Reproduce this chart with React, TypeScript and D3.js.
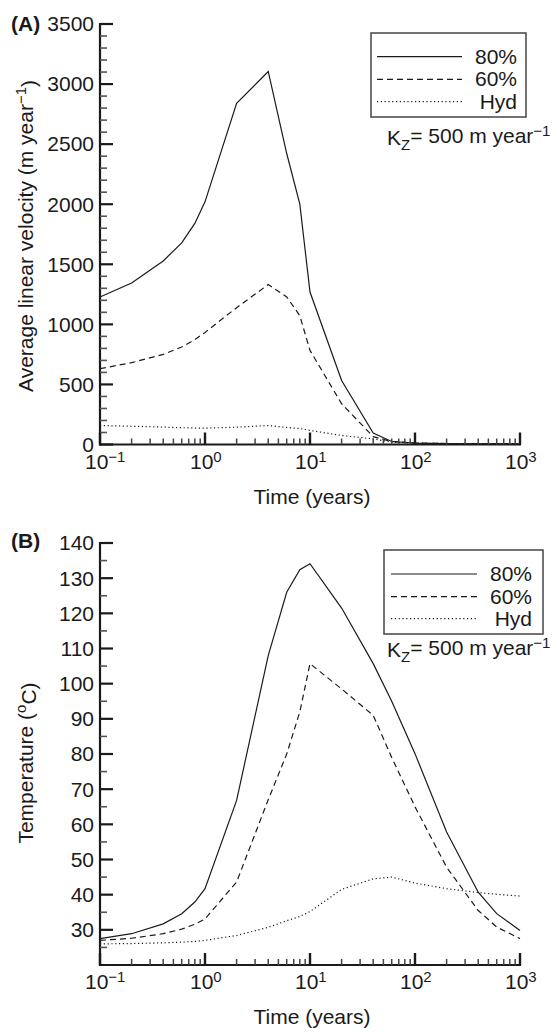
import React from "react";
import * as d3 from "d3";

// ---------- Data ----------
const timesA = [0.1, 0.2, 0.4, 0.6, 0.8, 1, 2, 4, 6, 8, 10, 20, 40, 60, 100, 200, 400, 1000];
const velocity80 = [1228, 1344, 1528, 1678, 1840, 2020, 2839, 3105, 2422, 2000, 1269, 533, 95, 25, 12, 8, 6, 4];
const velocity60 = [631, 681, 750, 811, 872, 933, 1139, 1331, 1228, 1072, 783, 339, 65, 25, 12, 8, 6, 4];
const velocityHyd = [158, 152, 145, 140, 137, 136, 144, 158, 142, 133, 117, 75, 47, 19, 12, 8, 6, 4];

const timesB = [0.1, 0.2, 0.4, 0.6, 0.8, 1, 2, 4, 6, 8, 10, 20, 40, 60, 100, 200, 400, 600, 1000];
const temp80 = [27.5, 28.9, 31.7, 34.6, 37.9, 41.7, 66.8, 108, 126, 132.4, 134.1, 121.5, 105.7, 95, 80.1, 57.8, 40.7, 34.6, 29.8];
const temp60 = [27, 27.6, 28.9, 30.2, 31.6, 33.1, 43.6, 67, 80, 92, 105.7, 98.5, 91, 79, 65, 47.8, 35.5, 30.8, 27.5];
const tempHyd = [26, 26.1, 26.3, 26.5, 26.7, 27, 28.4, 30.7, 32.6, 33.8, 35.2, 41.5, 44.5, 45, 43.3, 41.7, 40.6, 40.1, 39.6];

const seriesNames = ["80%", "60%", "Hyd"];
const xDecades = [-1, 0, 1, 2, 3];
const yTicksA = [0, 500, 1000, 1500, 2000, 2500, 3000, 3500];
const yTicksB = [30, 40, 50, 60, 70, 80, 90, 100, 110, 120, 130, 140];

// ---------- Styles ----------
const FONT = "'Liberation Sans', Arial, Helvetica, sans-serif";
const FS = 21;
const SUP = 15;
const INK = "#1a1a1a";
const dashes = ["none", "6,4", "1.2,2.6"];

const X0 = 100, X1 = 520;

type PanelProps = {
  label: string;
  times: number[];
  series: number[][];
  yDomain: [number, number];
  yRange: [number, number];
  majorTicks: number[];
  minorStep: number;
  yLabel: React.ReactNode;
  yLabelX: number;
  yLabelY: number;
  labelY: number;
  legend: { x0: number; x1: number; y0: number; y1: number; lineX0: number; lineX1: number; lineYs: number[]; textX: number };
  kz: { x: number; y: number };
  tickLabelY: number;
  titleY: number;
};

function Panel(p: PanelProps) {
  const x = d3.scaleLog().domain([0.1, 1000]).range([X0, X1]);
  const y = d3.scaleLinear().domain(p.yDomain).range(p.yRange);
  const axisY = p.yRange[0];
  const line = d3
    .line<number>()
    .x((_, i) => x(p.times[i]))
    .y((d) => y(d));

  const minorX: number[] = [];
  for (let d = -1; d < 3; d++) for (let m = 2; m <= 9; m++) minorX.push(m * Math.pow(10, d));
  const minorY = d3.range(p.yDomain[0], p.yDomain[1] + 0.001, p.minorStep).filter((v) => !p.majorTicks.includes(v));

  return (
    <g>
      <text x={11} y={p.labelY} fontFamily={FONT} fontSize={FS} fontWeight="bold" fill={INK}>
        {p.label}
      </text>
      {/* data lines */}
      {p.series.map((s, i) => (
        <path key={i} d={line(s) || ""} fill="none" stroke={INK} strokeWidth={1.2} strokeDasharray={dashes[i]} />
      ))}
      {/* y axis */}
      <line x1={X0} x2={X0} y1={p.yRange[1] - 1} y2={axisY + 1} stroke={INK} strokeWidth={2.2} />
      {minorY.map((v) => (
        <line key={"my" + v} x1={X0} x2={X0 + 7} y1={y(v)} y2={y(v)} stroke="#555" strokeWidth={1.6} />
      ))}
      {p.majorTicks.map((v) => (
        <g key={"y" + v}>
          <line x1={X0} x2={X0 + 13} y1={y(v)} y2={y(v)} stroke={INK} strokeWidth={2.2} />
          <text x={X0 - 6} y={y(v)} dy="0.35em" textAnchor="end" fontFamily={FONT} fontSize={FS} fill={INK}>
            {v}
          </text>
        </g>
      ))}
      {/* x axis */}
      <line x1={X0 - 1} x2={X1 + 1} y1={axisY} y2={axisY} stroke={INK} strokeWidth={2.2} />
      {minorX.map((v) => (
        <line key={"mx" + v} x1={x(v)} x2={x(v)} y1={axisY} y2={axisY - 6} stroke="#444" strokeWidth={1.5} />
      ))}
      {xDecades.map((d) => {
        const tx = x(Math.pow(10, d));
        return (
          <g key={"x" + d}>
            <line x1={tx} x2={tx} y1={axisY} y2={axisY - 12} stroke={INK} strokeWidth={2.4} />
            <text x={tx - 15} y={p.tickLabelY} fontFamily={FONT} fontSize={FS} fill={INK}>
              10
              <tspan dy="-0.5em" fontSize={SUP}>
                {d < 0 ? "\u2212" + Math.abs(d) : String(d)}
              </tspan>
            </text>
          </g>
        );
      })}
      <text x={(X0 + X1) / 2 + 2} y={p.titleY} textAnchor="middle" fontFamily={FONT} fontSize={FS} fill={INK}>
        Time (years)
      </text>
      {/* y label */}
      <text
        transform={`translate(${p.yLabelX},${p.yLabelY}) rotate(-90)`}
        textAnchor="middle"
        fontFamily={FONT}
        fontSize={FS}
        fill={INK}
      >
        {p.yLabel}
      </text>
      {/* legend */}
      <rect
        x={p.legend.x0}
        y={p.legend.y0}
        width={p.legend.x1 - p.legend.x0}
        height={p.legend.y1 - p.legend.y0}
        fill="#fff"
        stroke="#444"
        strokeWidth={1.5}
      />
      {seriesNames.map((n, i) => (
        <g key={n}>
          <line
            x1={p.legend.lineX0}
            x2={p.legend.lineX1}
            y1={p.legend.lineYs[i]}
            y2={p.legend.lineYs[i]}
            stroke={INK}
            strokeWidth={1.2}
            strokeDasharray={dashes[i]}
          />
          <text x={p.legend.textX} y={p.legend.lineYs[i] + 7} textAnchor="end" fontFamily={FONT} fontSize={FS} fill={INK}>
            {n}
          </text>
        </g>
      ))}
      <text x={p.kz.x} y={p.kz.y} fontFamily={FONT} fontSize={FS} fill={INK}>
        K
        <tspan dy="0.3em" fontSize={SUP}>Z</tspan>
        <tspan dy="-0.3em">{"= 500 m year"}</tspan>
        <tspan dy="-0.5em" fontSize={SUP}>{"\u22121"}</tspan>
      </text>
    </g>
  );
}

export default function App() {
  return (
    <svg
      width={557}
      height={1032}
      viewBox="0 0 557 1032"
      style={{ position: "absolute", left: 0, top: 0, display: "block", background: "#fff" }}
    >
      <rect width={557} height={1032} fill="#fff" />
      <Panel
        label="(A)"
        labelY={31}
        times={timesA}
        series={[velocity80, velocity60, velocityHyd]}
        yDomain={[0, 3500]}
        yRange={[444.5, 24]}
        majorTicks={yTicksA}
        minorStep={100}
        yLabel={
          <>
            Average linear velocity (m year
            <tspan dy="-0.5em" fontSize={SUP}>{"\u22121"}</tspan>
            <tspan dy="0.5em">)</tspan>
          </>
        }
        yLabelX={33}
        yLabelY={236}
        legend={{ x0: 371, x1: 526, y0: 33, y1: 117, lineX0: 377, lineX1: 462, lineYs: [56.7, 79.3, 101.7], textX: 517 }}
        kz={{ x: 387, y: 145 }}
        tickLabelY={469}
        titleY={504}
      />
      <Panel
        label="(B)"
        labelY={548}
        times={timesB}
        series={[temp80, temp60, tempHyd]}
        yDomain={[20, 140]}
        yRange={[965, 543]}
        majorTicks={yTicksB}
        minorStep={5}
        yLabel={
          <>
            Temperature (
            <tspan dy="-0.5em" fontSize={SUP}>o</tspan>
            <tspan dy="0.5em">C)</tspan>
          </>
        }
        yLabelX={33}
        yLabelY={763}
        legend={{ x0: 384, x1: 543, y0: 550, y1: 634, lineX0: 391, lineX1: 477, lineYs: [574, 596.7, 618.7], textX: 532 }}
        kz={{ x: 387, y: 657 }}
        tickLabelY={989}
        titleY={1024}
      />
    </svg>
  );
}
